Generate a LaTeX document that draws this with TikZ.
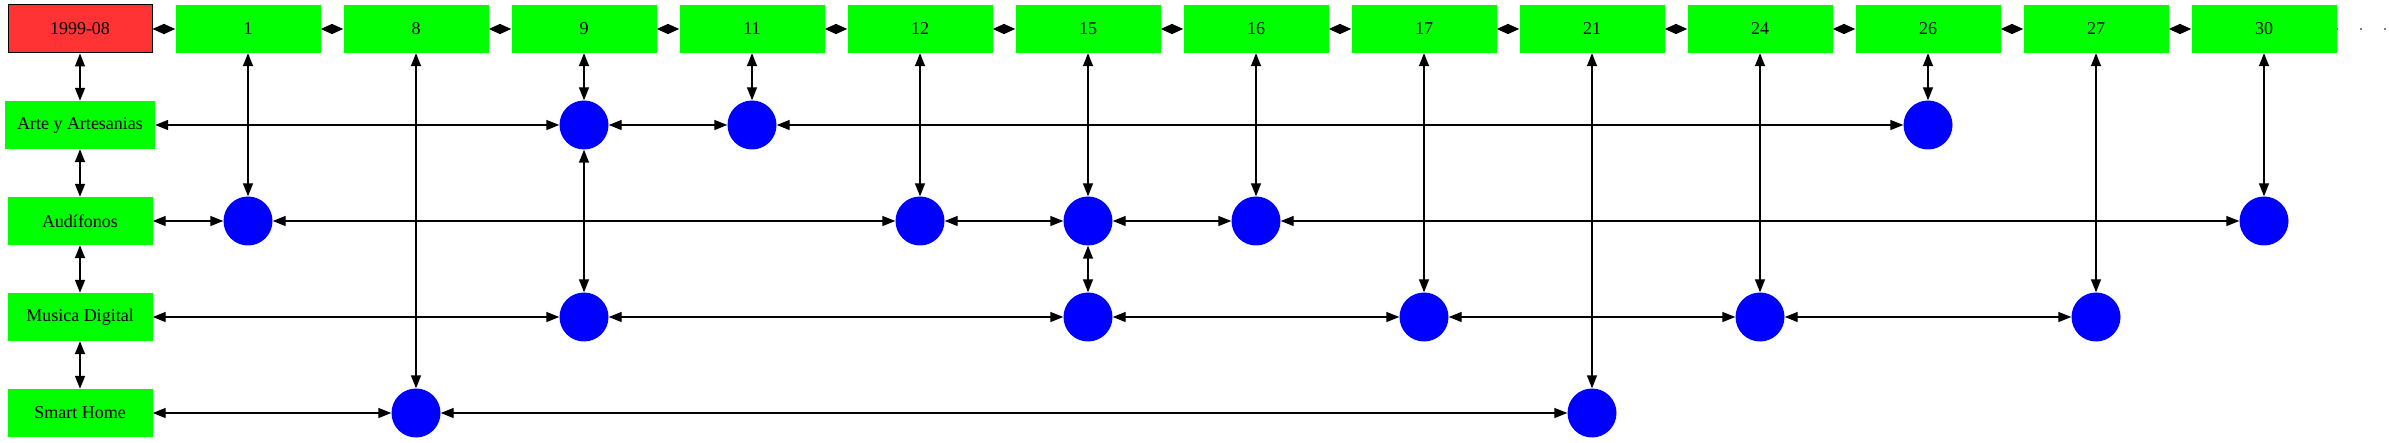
\documentclass[tikz,border=0pt]{standalone}
\usepackage{fontspec}
\setmainfont{Liberation Serif}
\usetikzlibrary{arrows.meta}
\usetikzlibrary{positioning}
\definecolor{boxgreen}{RGB}{0,255,0}
\definecolor{boxred}{RGB}{255,51,51}
\definecolor{dotblue}{RGB}{0,0,255}
\tikzset{>={Triangle[length=13pt,width=10pt]}}
\tikzset{
    hdr/.style={fill=boxgreen, minimum width=145pt, minimum height=48pt, inner xsep=12pt, font=\fontsize{18}{20}\selectfont},
    yearbox/.style={hdr, fill=boxred, draw=black, line width=1pt, minimum width=144pt},
    dot/.style={circle, fill=dotblue, minimum size=49pt, inner sep=0pt},
    link/.style={<->, line width=1.4pt},
    toplink/.style={{Triangle[length=11.5pt,width=10pt]}-{Triangle[length=11.5pt,width=10pt]}, line width=1.4pt},
}
\begin{document}
\begin{tikzpicture}[x=1pt, y=-1pt]
	\useasboundingbox (0,0) rectangle (2389,443);
	% top row
	\node[yearbox] (hy) at (80,29) {1999-08};
	\foreach \n [count=\i] in {1,8,9,11,12,15,16,17,21,24,26,27,30}
		\node[hdr] (h\n) at ({80+168*\i},29) {\n};
	\foreach \a/\b in {y/1,1/8,8/9,9/11,11/12,12/15,15/16,16/17,17/21,21/24,24/26,26/27,27/30}
		\draw[toplink] (h\a) -- (h\b);
	\coordinate (tail) at (2389,29);
	\draw[gray, line width=1.4pt, dash pattern=on 1.4pt off 22.6pt, dash phase=0.5pt] (h30.east) -- (tail);
	% row labels
	\node[hdr] (arte) at (80,125) {Arte y Artesanias};
	\node[hdr] (audi) at (80,221) {Audífonos};
	\node[hdr] (musica) at (80,317) {Musica Digital};
	\node[hdr] (smart) at (80,413) {Smart Home};
	\draw[link] (hy) -- (arte);
	\draw[link] (arte) -- (audi);
	\draw[link] (audi) -- (musica);
	\draw[link] (musica) -- (smart);
	% Arte y Artesanias
	\node[dot] (a9) at (584,125) {};
	\node[dot] (a11) at (752,125) {};
	\node[dot] (a26) at (1928,125) {};
	\draw[link] (arte) -- (a9);
	\draw[link] (a9) -- (a11);
	\draw[link] (a11) -- (a26);
	% Audifonos
	\node[dot] (u1) at (248,221) {};
	\node[dot] (u12) at (920,221) {};
	\node[dot] (u15) at (1088,221) {};
	\node[dot] (u16) at (1256,221) {};
	\node[dot] (u30) at (2264,221) {};
	\draw[link] (audi) -- (u1);
	\draw[link] (u1) -- (u12);
	\draw[link] (u12) -- (u15);
	\draw[link] (u15) -- (u16);
	\draw[link] (u16) -- (u30);
	% Musica Digital
	\node[dot] (m9) at (584,317) {};
	\node[dot] (m15) at (1088,317) {};
	\node[dot] (m17) at (1424,317) {};
	\node[dot] (m24) at (1760,317) {};
	\node[dot] (m27) at (2096,317) {};
	\draw[link] (musica) -- (m9);
	\draw[link] (m9) -- (m15);
	\draw[link] (m15) -- (m17);
	\draw[link] (m17) -- (m24);
	\draw[link] (m24) -- (m27);
	% Smart Home
	\node[dot] (s8) at (416,413) {};
	\node[dot] (s21) at (1592,413) {};
	\draw[link] (smart) -- (s8);
	\draw[link] (s8) -- (s21);
	% columns
	\draw[link] (h1) -- (u1);
	\draw[link] (h8) -- (s8);
	\draw[link] (h9) -- (a9);
	\draw[link] (a9) -- (m9);
	\draw[link] (h11) -- (a11);
	\draw[link] (h12) -- (u12);
	\draw[link] (h15) -- (u15);
	\draw[link] (u15) -- (m15);
	\draw[link] (h16) -- (u16);
	\draw[link] (h17) -- (m17);
	\draw[link] (h21) -- (s21);
	\draw[link] (h24) -- (m24);
	\draw[link] (h26) -- (a26);
	\draw[link] (h27) -- (m27);
	\draw[link] (h30) -- (u30);
\end{tikzpicture}
\end{document}
